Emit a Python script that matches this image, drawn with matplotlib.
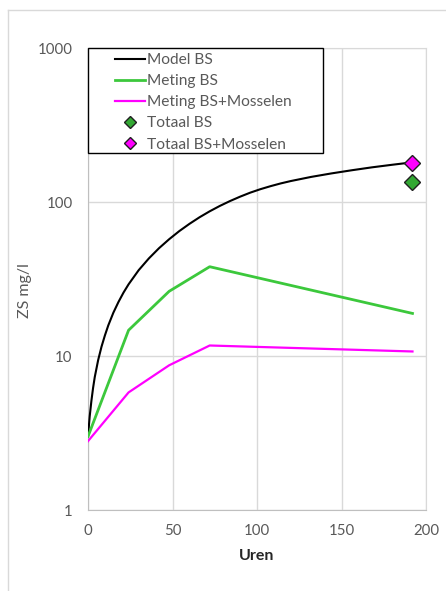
import numpy as np
import matplotlib.pyplot as plt
from matplotlib.lines import Line2D
from matplotlib.patches import Rectangle
from matplotlib.ticker import FixedLocator, NullLocator

plt.rcParams['font.family'] = ['Lato', 'DejaVu Sans']

# model curve
model_t = [0, 1, 2, 3, 4, 6, 8, 10, 12, 15, 18, 21, 24, 30, 36, 42, 48, 54, 60, 66,
           72, 78, 84, 90, 96, 102, 108, 114, 120, 132, 144, 156, 168, 180, 192]
model_bs = [3.0, 4.05, 5.1, 6.2, 7.3, 9.4, 11.5, 13.6, 15.8, 19.1, 22.4, 25.8, 29.2,
            36.1, 43.0, 50.1, 57.3, 64.7, 72.1, 79.6, 87.0, 94.3, 101.4, 108.3, 115.0,
            121.1, 126.7, 132.0, 136.8, 145.5, 153.3, 160.7, 167.9, 174.5, 181.0]

# measurements
meet_t = [0, 24, 48, 72, 192]
meting_bs = [3.0, 14.7, 26.3, 38.0, 18.9]
meting_bs_mos = [2.8, 5.8, 8.7, 11.7, 10.7]

# totals at end of run
totaal_t = [192]
totaal_bs = [135]
totaal_bs_mos = [180]

xticks = [0, 50, 100, 150, 200]
yticks = [1, 10, 100, 1000]

green = '#3cc83c'
grey_txt = '#595959'
grid_c = '#d9d9d9'

fig = plt.figure(figsize=(4.46, 5.91), dpi=100)
ax = fig.add_axes([88/446, 1 - 510/591, 338/446, 462/591])

ax.plot(model_t, model_bs, color='black', lw=1.5, zorder=3)
ax.plot(meet_t, meting_bs, color=green, lw=2.0, zorder=3)
ax.plot(meet_t, meting_bs_mos, color='#ff00ff', lw=1.6, zorder=3)
ax.plot(totaal_t, totaal_bs, ls='none', marker='D', ms=8.5, mfc='#33a833', mec='#202020', mew=1.0, zorder=4)
ax.plot(totaal_t, totaal_bs_mos, ls='none', marker='D', ms=8.5, mfc='#ff00ff', mec='#202020', mew=1.0, zorder=4)

ax.set_yscale('log')
ax.set_xlim(0, 200)
ax.set_ylim(1, 1000)
ax.xaxis.set_major_locator(FixedLocator(xticks))
ax.yaxis.set_major_locator(FixedLocator(yticks))
ax.yaxis.set_minor_locator(NullLocator())
ax.set_xticklabels([str(v) for v in xticks])
ax.set_yticklabels([str(v) for v in yticks])
ax.tick_params(length=0, labelsize=10.8, colors=grey_txt)
ax.tick_params(axis='y', pad=11)
ax.tick_params(axis='x', pad=10)
ax.grid(True, color=grid_c, lw=1.0)
for s in ax.spines.values():
    s.set_color(grid_c)
ax.spines['left'].set_color('#bfbfbf')
ax.spines['bottom'].set_color('#bfbfbf')

ax.set_xlabel('Uren', fontsize=11.5, fontweight='bold', color='#262626')
ax.xaxis.set_label_coords(0.5, (510 - 556) / 462)
ax.xaxis.label.set_va('center')
ax.set_ylabel('ZS mg/l', fontsize=11.5, color=grey_txt)
ax.yaxis.set_label_coords((25 - 88) / 338, (510 - 291) / 462)
ax.yaxis.label.set_va('center')
ax.yaxis.label.set_ha('center')

# legend box drawn separately so the padding can be set freely
box_r = (323 - 88) / 338
box_b = (510 - 153) / 462
ax.add_patch(Rectangle((0, box_b), box_r, 1 - box_b, transform=ax.transAxes,
                       fc='white', ec='black', lw=1.0, zorder=5, clip_on=False))
handles = [
    Line2D([], [], color='black', lw=1.5),
    Line2D([], [], color=green, lw=2.0),
    Line2D([], [], color='#ff00ff', lw=1.6),
    Line2D([], [], ls='none', marker='D', ms=6, mfc='#33a833', mec='#202020', mew=1.0),
    Line2D([], [], ls='none', marker='D', ms=6, mfc='#ff00ff', mec='#202020', mew=1.0),
]
labels = ['Model BS', 'Meting BS', 'Meting BS+Mosselen', 'Totaal BS', 'Totaal BS+Mosselen']
leg = ax.legend(handles, labels, loc='upper left',
                bbox_to_anchor=((115 - 88) / 338, 1 - 5 / 462),
                frameon=False, borderpad=0, borderaxespad=0,
                handlelength=1.95, handletextpad=0.12, labelspacing=0.46,
                fontsize=11.2, labelcolor=grey_txt)
leg.set_zorder(6)

# chart area border
fig.add_artist(Line2D([8/446, 8/446], [0, 1 - 10/591], color=grid_c, lw=1.0))
fig.add_artist(Line2D([8/446, 1], [1 - 10/591, 1 - 10/591], color=grid_c, lw=1.0))

fig.savefig('out.png', dpi=100)
